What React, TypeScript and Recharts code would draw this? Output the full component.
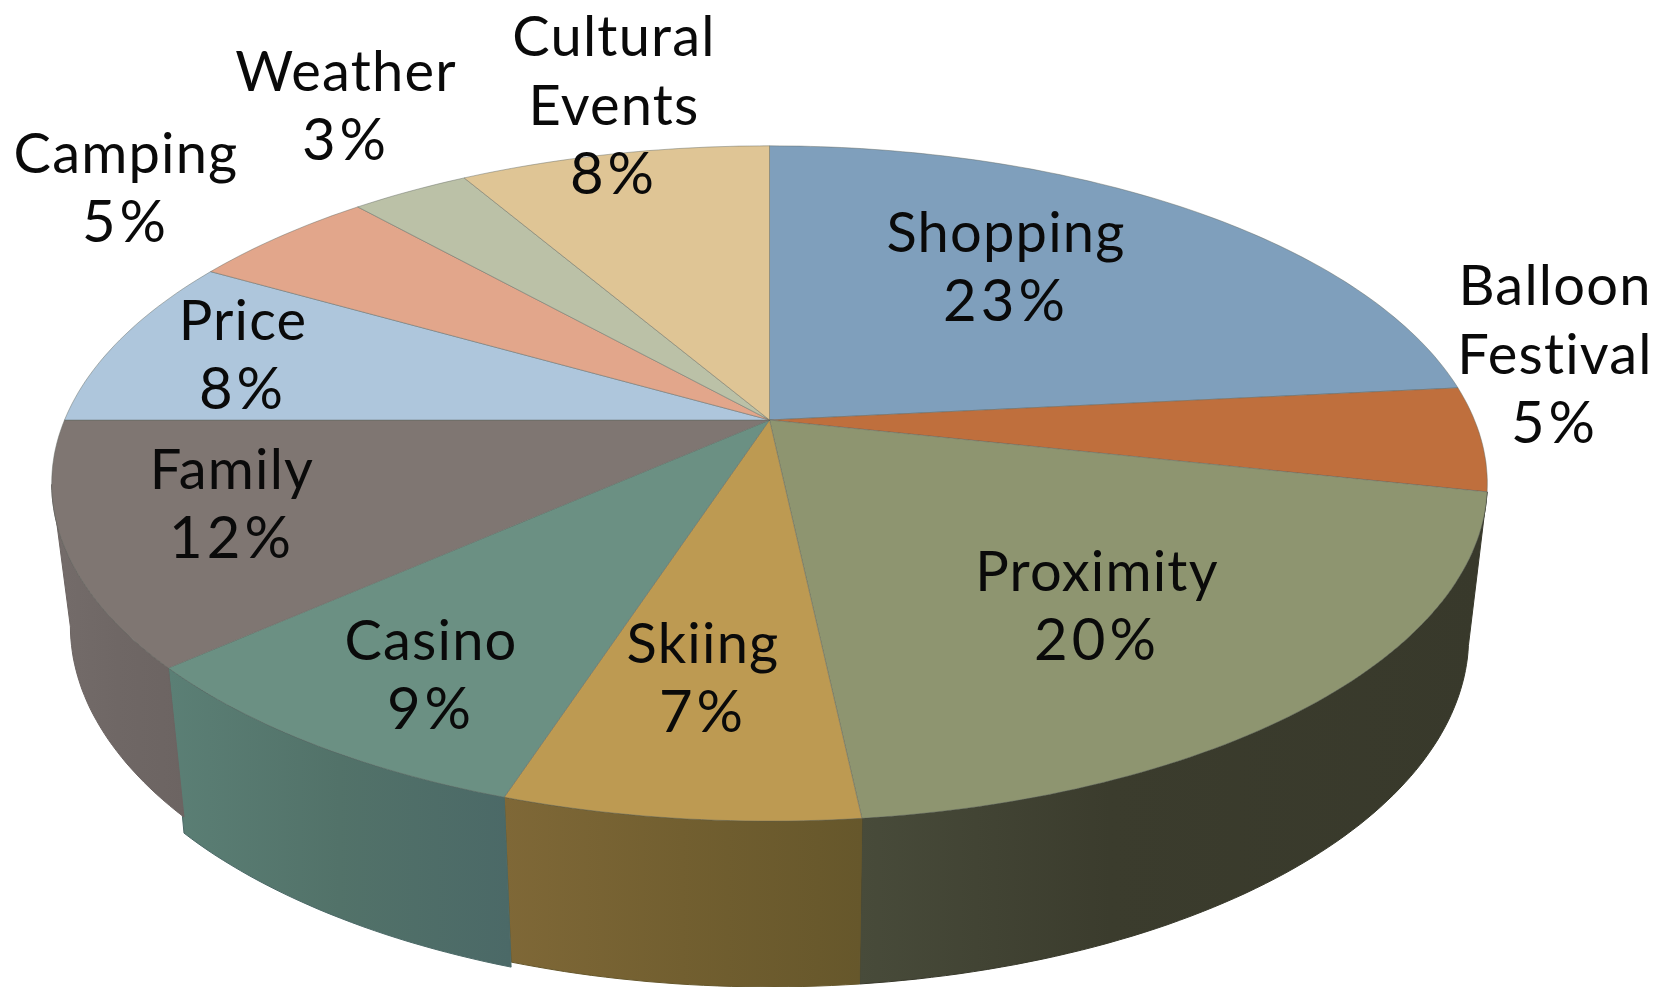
import { Pie, PieChart } from 'recharts'

const categories = ['Shopping', 'Balloon Festival', 'Proximity', 'Skiing', 'Casino', 'Family', 'Price', 'Camping', 'Weather', 'Cultural Events']
// slice sizes (the printed percentages are rounded)
const shares = [23.4, 5.0, 19.9, 6.7, 8.4, 11.6, 8.3, 5.1, 3.2, 8.4]
const printedPercents = ['23%', '5%', '20%', '7%', '9%', '12%', '8%', '5%', '3%', '8%']

const topColors = ['#7f9fbc', '#bf6f3d', '#8e9570', '#bd9a52', '#6b9083', '#7f7672', '#aec6dc', '#e2a68b', '#bbc1a7', '#dfc595']
const wallFrom = ['', '', '#484b3a', '#7f6837', '#5b7f75', '#746c6a', '', '', '', '']
const wallMid = ['', '', '#3b3c2d', '#725f30', '#527269', '#6f6765', '', '', '', '']
const wallTo = ['', '', '#38392b', '#66572b', '#4b6967', '#6c6462', '', '', '', '']
// the rim's lower edge is not quite even: Casino hangs a little lower, Family sits higher
const wallLift = [0, 0, 0, 0, 5, -11, 0, 0, 0, 0]

// label anchor: centre x and first baseline
const labelX = [1006, 1555, 1097, 703, 431, 232, 243, 126, 346, 614]
const labelY = [252, 305, 591, 663, 660, 489, 340, 173, 91, 56]
const LINE_HEIGHT = 69

const WIDTH = 1668
const HEIGHT = 987
const CX = 769.5
const CY = 420
const RADIUS = 705

const chartData = categories.map((name, i) => ({
  name,
  value: shares[i],
  fill: topColors[i],
  percent: printedPercents[i],
  index: i,
}))

// the pie is tilted with some perspective, so a circle point is projected
const TOP_RING = { cy: CY, rx: 1, ry: 0.462, k: 0.188 }
const BOTTOM_RING = { cy: 571, rx: 0.974, ry: 0.479, k: 0.188 }

type Ring = typeof TOP_RING

function project(deg: number, ring: Ring, r: number, lift = 0) {
  const a = (deg * Math.PI) / 180
  const u = Math.sin(a)
  const v = Math.cos(a)
  const w = 1 + ring.k * v
  return [CX + (ring.rx * r * u) / w, ring.cy - (ring.ry * r * v) / w + lift]
}

function arc(from: number, to: number, ring: Ring, r: number, lift = 0) {
  const pts: number[][] = []
  const steps = Math.max(2, Math.ceil(Math.abs(to - from)))
  for (let i = 0; i <= steps; i++) {
    pts.push(project(from + ((to - from) * i) / steps, ring, r, lift))
  }
  return pts
}

const toPath = (pts: number[][]) =>
  'M' + pts.map((p) => `${p[0].toFixed(1)},${p[1].toFixed(1)}`).join('L') + 'Z'

function TopFace(props: any) {
  const from = 90 - props.startAngle
  const to = 90 - props.endAngle
  const pts = [[props.cx, props.cy], ...arc(from, to, TOP_RING, props.outerRadius)]
  return <path d={toPath(pts)} fill={props.fill} stroke="#5f6560" strokeOpacity={0.45} strokeWidth={1} />
}

function WallFace(props: any) {
  const i = props.payload?.index ?? props.index
  if (!wallFrom[i]) return <g />
  // only the near part of the rim shows, between the widest points
  const from = Math.max(90 - props.startAngle, 101)
  const to = Math.min(90 - props.endAngle, 259)
  const pts = [
    ...arc(from, to, TOP_RING, props.outerRadius),
    ...arc(to, from, BOTTOM_RING, props.outerRadius, wallLift[i]),
  ]
  const id = `wall-${i}`
  // Proximity goes dark quickly from its left end, the others fade evenly
  const darkFirst = categories[i] === 'Proximity'
  return (
    <g>
      <defs>
        <linearGradient id={id} x1={darkFirst ? '1' : '0'} y1="0" x2={darkFirst ? '0' : '1'} y2="0">
          <stop offset="0%" stopColor={darkFirst ? wallTo[i] : wallFrom[i]} />
          <stop offset={darkFirst ? '60%' : '50%'} stopColor={wallMid[i]} />
          <stop offset="100%" stopColor={darkFirst ? wallFrom[i] : wallTo[i]} />
        </linearGradient>
      </defs>
      <path d={toPath(pts)} fill={`url(#${id})`} stroke={wallTo[i]} strokeWidth={1} />
    </g>
  )
}

function SliceLabel(props: any) {
  const i = props.payload?.index ?? props.index
  const words = categories[i].split(' ')
  const x = labelX[i]
  const y = labelY[i]
  return (
    <text x={x} y={y} textAnchor="middle" fill="#0a0a0a" fontFamily="Lato, sans-serif" fontSize={56}>
      {words.map((line, n) => (
        <tspan key={n} x={x} y={y + n * LINE_HEIGHT} letterSpacing={1.2}>
          {line}
        </tspan>
      ))}
      <tspan x={x} y={y + words.length * LINE_HEIGHT} fontSize={58} letterSpacing={4}>
        {printedPercents[i]}
      </tspan>
    </text>
  )
}

export default function App() {
  return (
    <div style={{ position: 'absolute', left: 0, top: 0, width: WIDTH, height: HEIGHT, background: '#fff' }}>
      <PieChart width={WIDTH} height={HEIGHT} margin={{ top: 0, right: 0, bottom: 0, left: 0 }}>
        <Pie
          data={chartData}
          dataKey="value"
          cx={CX}
          cy={CY}
          outerRadius={RADIUS}
          startAngle={90}
          endAngle={-270}
          shape={WallFace}
          isAnimationActive={false}
        />
        <Pie
          data={chartData}
          dataKey="value"
          cx={CX}
          cy={CY}
          outerRadius={RADIUS}
          startAngle={90}
          endAngle={-270}
          shape={TopFace}
          label={SliceLabel}
          labelLine={false}
          isAnimationActive={false}
        />
      </PieChart>
    </div>
  )
}
